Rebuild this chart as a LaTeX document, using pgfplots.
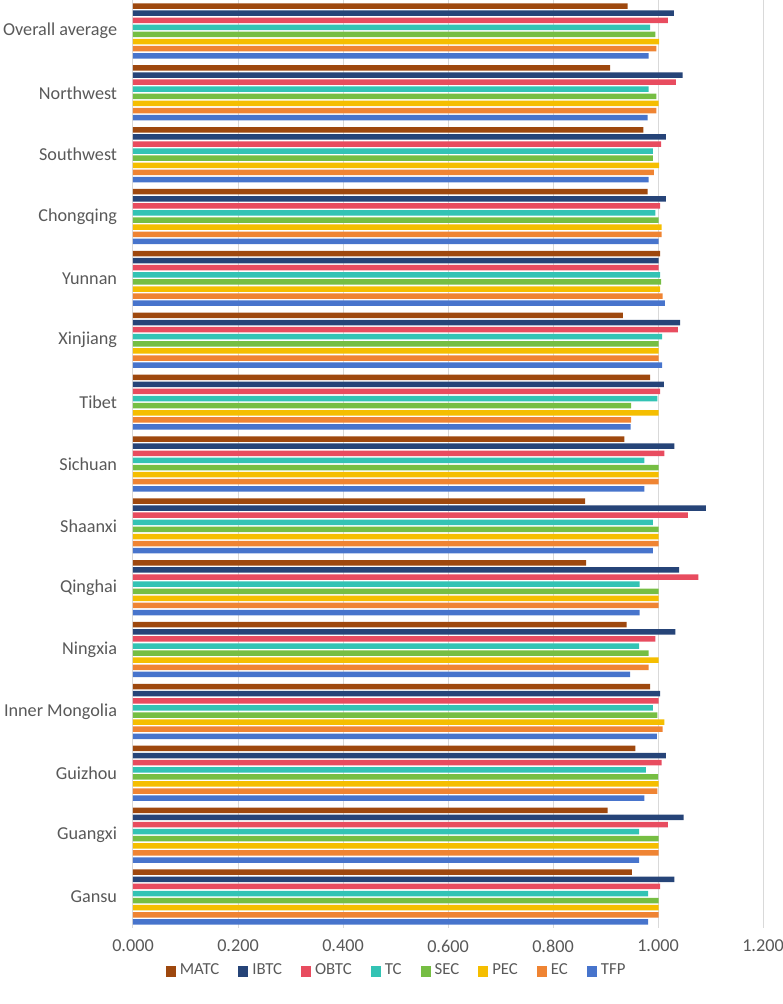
\documentclass[border=0pt]{standalone}
\usepackage{pgfplots}
\usepackage{pgfplotstable}
\pgfplotsset{compat=1.18}
\usepackage{fontspec}
\setmainfont{Carlito}
\definecolor{cMATC}{HTML}{9E480E}
\definecolor{cIBTC}{HTML}{264478}
\definecolor{cOBTC}{HTML}{E84C5F}
\definecolor{cTC}{HTML}{33C3B4}
\definecolor{cSEC}{HTML}{76BE43}
\definecolor{cPEC}{HTML}{F5BE00}
\definecolor{cEC}{HTML}{EF8433}
\definecolor{cTFP}{HTML}{4774CC}
\definecolor{txt}{HTML}{595959}
\pgfplotstableread{
y MATC IBTC OBTC TC SEC PEC EC TFP
0 0.950 1.031 1.004 0.981 1.001 1.001 1.001 0.981
1 0.904 1.049 1.019 0.964 1.001 1.001 1.001 0.964
2 0.957 1.015 1.007 0.977 1.000 1.001 0.999 0.974
3 0.985 1.004 1.001 0.990 0.999 1.012 1.009 0.998
4 0.940 1.033 0.995 0.964 0.982 1.001 0.982 0.947
5 0.863 1.040 1.077 0.965 1.001 1.001 1.001 0.965
6 0.861 1.091 1.057 0.990 1.001 1.001 1.001 0.990
7 0.936 1.031 1.012 0.974 1.001 1.001 1.001 0.974
8 0.985 1.011 1.004 0.999 0.949 1.001 0.949 0.948
9 0.933 1.042 1.038 1.008 1.001 1.001 1.001 1.008
10 1.004 1.001 1.001 1.004 1.006 1.004 1.009 1.013
11 0.980 1.015 1.004 0.995 1.001 1.007 1.007 1.001
12 0.972 1.015 1.006 0.990 0.990 1.002 0.992 0.982
13 0.909 1.047 1.034 0.982 0.997 1.001 0.997 0.980
14 0.942 1.030 1.019 0.985 0.995 1.002 0.997 0.982
}\data
\begin{document}
\begin{tikzpicture}
\useasboundingbox (-66.5pt,-38pt) rectangle (324.5pt,464pt);
\begin{axis}[
  scale only axis,
  width=315pt, height=464pt,
  xbar=0.8pt, bar width=2.75pt,
  xmin=0, xmax=1.2,
  ymin=-0.5, ymax=14.5,
  xtick={0,0.2,...,1.2},
  ytick={0,...,14},
  yticklabels={Gansu,Guangxi,Guizhou,Inner Mongolia,Ningxia,Qinghai,Shaanxi,Sichuan,Tibet,Xinjiang,Yunnan,Chongqing,Southwest,Northwest,Overall average},
  xmajorgrids,
  major grid style={draw=black!15, line width=0.5pt},
  axis line style={draw=none},
  tick style={draw=none},
  /pgf/number format/assume math mode=true,
  xticklabel={\pgfmathprintnumber[fixed,fixed zerofill,precision=3]{\tick}},
  ticklabel style={font=\fontsize{9.1pt}{11pt}\selectfont, text=txt},
  yticklabel style={inner sep=0pt, xshift=-3.5pt},
  xticklabel style={yshift=-2.5pt},
  reverse legend,
  legend columns=8,
  legend style={at={(0.42,-21.5pt)}, anchor=center, draw=none, fill=none,
    font=\fontsize{8.4pt}{10pt}\selectfont, text=txt,
    /tikz/every even column/.append style={column sep=7.5pt},
    inner sep=0pt},
  legend image code/.code={\fill[#1] (0pt,-2.8pt) rectangle (5pt,2.4pt);},
  every axis plot/.append style={draw=none},
]
\addplot[fill=cTFP] table[x=TFP,y=y]{\data};
\addplot[fill=cEC] table[x=EC,y=y]{\data};
\addplot[fill=cPEC] table[x=PEC,y=y]{\data};
\addplot[fill=cSEC] table[x=SEC,y=y]{\data};
\addplot[fill=cTC] table[x=TC,y=y]{\data};
\addplot[fill=cOBTC] table[x=OBTC,y=y]{\data};
\addplot[fill=cIBTC] table[x=IBTC,y=y]{\data};
\addplot[fill=cMATC] table[x=MATC,y=y]{\data};
\legend{TFP,EC,PEC,SEC,TC,OBTC,IBTC,MATC}
\end{axis}
\end{tikzpicture}
\end{document}
